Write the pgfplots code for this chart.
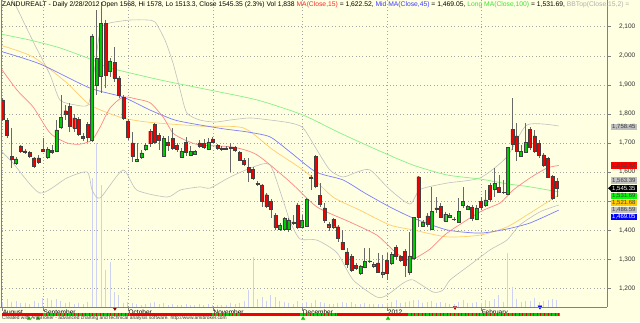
\documentclass[border=0pt]{standalone}
\usepackage{pgfplots}
\pgfplotsset{compat=1.18}
\usepackage{pgfplotstable}
\usepackage{fontspec}
\setmainfont{Liberation Sans}

\definecolor{bg}{RGB}{255,255,226}
\definecolor{gridc}{RGB}{165,165,165}
\definecolor{upc}{RGB}{0,205,0}
\definecolor{dnc}{RGB}{240,0,0}
\definecolor{wick}{RGB}{105,105,105}
\definecolor{volc}{RGB}{205,210,242}
\definecolor{ma15}{RGB}{255,135,135}
\definecolor{ma45}{RGB}{125,125,255}
\definecolor{ma100}{RGB}{135,240,135}
\definecolor{orng}{RGB}{255,205,110}
\definecolor{bbg}{RGB}{192,192,192}

\pgfplotstableread{
i o h l c
0 1848 1855 1776 1782
1 1779 1786 1717 1727
2 1653 1752 1614 1644
3 1631 1652 1624 1645
4 1690 1693 1666 1670
5 1673 1679 1662 1667
6 1667 1672 1648 1653
7 1649 1653 1614 1621
8 1649 1659 1628 1634
9 1678 1716 1669 1673
10 1651 1686 1645 1678
11 1674 1693 1662 1669
12 1673 1779 1669 1745
13 1755 1865 1748 1789
14 1811 1831 1779 1800
15 1827 1838 1739 1756
16 1786 1800 1738 1752
17 1781 1789 1724 1731
18 1723 1734 1707 1717
19 1765 1772 1703 1721
20 1710 2075 1703 2068
21 1899 2157 1865 1992
22 1930 2185 1872 2112
23 2112 2123 1889 1934
24 1948 1992 1927 1982
25 1977 2030 1910 1924
26 1924 1930 1855 1863
27 1858 1865 1779 1786
28 1776 1783 1710 1721
29 1700 1738 1635 1655
30 1639 1700 1635 1643
31 1652 1676 1645 1666
32 1678 1699 1672 1693
33 1741 1748 1686 1700
34 1765 1768 1697 1703
35 1727 1734 1676 1708
36 1654 1724 1652 1717
37 1703 1724 1672 1691
38 1715 1752 1676 1683
39 1693 1700 1669 1678
40 1652 1683 1648 1672
41 1703 1721 1655 1667
42 1659 1690 1655 1670
43 1661 1676 1659 1670
44 1700 1710 1683 1690
45 1699 1715 1679 1684
46 1678 1716 1676 1704
47 1714 1721 1700 1703
48 1691 1697 1676 1682
49 1682 1690 1672 1679
50 1683 1690 1676 1680
51 1683 1700 1600 1686
52 1684 1690 1669 1676
53 1667 1672 1638 1641
54 1640 1648 1621 1627
55 1615 1648 1567 1598
56 1609 1617 1573 1580
57 1562 1569 1552 1559
58 1556 1559 1481 1500
59 1522 1528 1476 1481
60 1500 1507 1441 1472
61 1452 1458 1401 1410
62 1403 1425 1397 1418
63 1403 1445 1397 1441
64 1403 1442 1395 1435
65 1429 1452 1418 1424
66 1487 1494 1404 1410
67 1412 1452 1408 1435
68 1415 1511 1411 1506
69 1583 1590 1538 1580
70 1653 1659 1545 1550
71 1519 1561 1481 1490
72 1477 1492 1424 1435
73 1421 1429 1398 1412
74 1437 1442 1404 1412
75 1412 1418 1360 1374
76 1358 1401 1332 1336
77 1325 1338 1269 1283
78 1309 1318 1257 1263
79 1280 1286 1263 1269
80 1252 1281 1246 1277
81 1274 1338 1270 1294
82 1294 1338 1286 1295
83 1277 1291 1270 1283
84 1288 1322 1252 1257
85 1249 1315 1235 1257
86 1297 1320 1229 1252
87 1288 1326 1280 1318
88 1341 1349 1297 1312
89 1309 1315 1292 1298
90 1328 1334 1240 1278
91 1254 1395 1246 1312
92 1303 1446 1297 1443
93 1584 1586 1412 1446
94 1415 1435 1412 1429
95 1449 1458 1412 1421
96 1404 1550 1401 1464
97 1477 1515 1458 1473
98 1483 1492 1441 1446
99 1432 1462 1427 1455
100 1444 1458 1441 1450
101 1438 1446 1433 1437
102 1429 1510 1427 1464
103 1487 1550 1475 1500
104 1472 1487 1470 1481
105 1479 1487 1433 1440
106 1438 1487 1435 1477
107 1500 1515 1470 1479
108 1486 1538 1479 1504
109 1555 1561 1498 1506
110 1542 1613 1515 1561
111 1548 1590 1527 1530
112 1531 1573 1524 1529
113 1525 1686 1521 1684
114 1747 1854 1676 1697
115 1724 1768 1639 1672
116 1656 1693 1653 1672
117 1668 1768 1666 1702
118 1748 1754 1676 1685
119 1724 1745 1664 1673
120 1699 1710 1647 1659
121 1659 1665 1616 1624
122 1647 1653 1579 1582
123 1586 1590 1504 1510
124 1568 1578 1513.3 1545.35
}\candles

\pgfplotstableread{
i v
0 1315
1 2104
2 1315
3 1578
4 1052
5 1052
6 789
7 1578
8 1052
9 2367
10 2367
11 1841
12 2104
13 1578
14 1052
15 1315
16 789
17 1052
18 789
19 1315
20 33927
21 43132
22 32086
23 9731
24 11835
25 3945
26 3156
27 1052
28 1315
29 1052
30 789
31 526
32 789
33 1052
34 1315
35 789
36 1052
37 526
38 789
39 526
40 526
41 789
42 526
43 526
44 789
45 526
46 789
47 526
48 526
49 526
50 526
51 1052
52 789
53 1052
54 1578
55 4471
56 13150
57 2104
58 2630
59 1578
60 3156
61 2630
62 1578
63 1315
64 1052
65 789
66 1578
67 1052
68 1315
69 1052
70 1841
71 1315
72 1052
73 789
74 789
75 1052
76 1315
77 1052
78 1315
79 789
80 789
81 1052
82 789
83 789
84 789
85 789
86 1052
87 1315
88 1841
89 1052
90 1315
91 1578
92 1841
93 1841
94 1052
95 1315
96 1578
97 1052
98 1315
99 1052
100 789
101 789
102 1315
103 1841
104 1052
105 1052
106 1315
107 1052
108 1841
109 1578
110 2104
111 3156
112 1315
113 14202
114 5260
115 2104
116 1315
117 1578
118 1578
119 2367
120 1315
121 1578
122 1841
123 2104
124 1838
}\voltab

\pgfplotsset{base/.style={width=605pt,height=307pt,scale only axis,
  xmin=-0.16,xmax=135.2,at={(2pt,15pt)},anchor=south west},
  price/.style={base,ymin=1135.8,ymax=2191.8}}

\begin{document}
\begin{tikzpicture}[x=1pt,y=1pt]
\useasboundingbox (0,0) rectangle (640,322);
\fill[bg] (0,0) rectangle (640,322);

% grid, ticks, labels
\begin{axis}[price,
  axis line style={draw=none},
  ytick={1200,1300,1400,1500,1600,1700,1800,1900,2000,2100},
  yticklabels={{1,200},{1,300},{1,400},{},{1,600},{1,700},{1,800},{1,900},{2,000},{2,100}},
  ytick pos=right, yticklabel pos=right,
  xtick={-0.16,9,28,47,67,86,107},
  xticklabels={August,September,October,November,December,2012,February},
  xtick pos=bottom,
  tick align=outside, major tick length=3.5pt,
  tick style={draw=gray, line width=0.5pt},
  ymajorgrids, xmajorgrids,
  grid style={gridc, line width=0.5pt, dash pattern=on 0.8pt off 2.6pt},
  yticklabel style={font=\fontsize{6.5}{7}\selectfont, text=black!80, anchor=west, xshift=5pt},
  xticklabel style={font=\fontsize{6.5}{7}\selectfont, text=black, anchor=north west, inner sep=0.6pt, yshift=1.5pt},
]
\addplot[draw=none] coordinates {(0,1500)};
\end{axis}

% volume
\begin{axis}[base, ymin=0, ymax=80741, hide axis]
\addplot[ycomb, volc, line width=0.9pt, mark=none] table[x=i,y=v]{\voltab};
\end{axis}

% moving averages and bands
\begin{axis}[price, hide axis]
\addplot[bbg, line width=0.6pt, smooth, tension=0.4] coordinates {
(-0.6,2250) (2.8,2175) (5.0,2106) (7.2,2037) (10.6,1934) (12.8,1848) (16.2,1831) (19.1,1831) (20.2,1917) (21.1,2020) (22.0,2096) (24.0,2113) (28.5,2123) (32.3,2123) (34.1,2116) (36.3,2054) (38.1,1975) (39.7,1882) (41.2,1803) (44.1,1779) (47.5,1772) (50.9,1779) (55.3,1786) (59.8,1779) (64.3,1769) (67.2,1752) (70.3,1676) (73.2,1607) (76.1,1583) (79.3,1600) (82.2,1607) (86.6,1540) (91.1,1490) (93.4,1540) (99.4,1562) (106.8,1580) (112.8,1652) (117.3,1762) (124.4,1758.45)};
\addplot[bbg, line width=0.6pt, smooth, tension=0.4] coordinates {
(-0.6,1676) (2.3,1631) (8.3,1528) (14.4,1580) (18.9,1600) (20.0,1538) (21.8,1511) (26.9,1607) (30.0,1538) (36.8,1514) (39.7,1538) (44.1,1549) (46.4,1545) (50.9,1583) (56.0,1617) (59.8,1625) (62.7,1504) (64.3,1430) (66.5,1370) (70.3,1366) (74.8,1322) (78.4,1229) (83.7,1170) (86.0,1177) (89.6,1218) (91.8,1229) (96.3,1187) (98.5,1194) (100.1,1229) (104.5,1280) (109.0,1332) (112.8,1366) (115.7,1418) (120.2,1463) (124.4,1486.59)};
\addplot[ma100, line width=0.7pt, smooth, tension=0.4] coordinates {
(-0.6,2075) (6.1,2054) (12.8,2027) (20.2,1985) (24.0,1958) (35.2,1917) (44.1,1889) (56.9,1848) (67.2,1796) (75.5,1734) (84.4,1672) (91.8,1624) (99.4,1590) (106.8,1576) (113.1,1559) (118.0,1549) (124.4,1531.69)};
\addplot[orng, line width=0.7pt, smooth, tension=0.4] coordinates {
(-0.6,2037) (6.8,1996) (14.4,1906) (19.5,1831) (26.2,1789) (32.3,1772) (44.1,1758) (53.8,1752) (60.5,1676) (68.1,1597) (73.9,1514) (79.9,1469) (86.6,1418) (91.8,1401) (99.4,1377) (106.8,1383) (112.8,1411) (118.0,1459) (124.4,1521.68)};
\addplot[ma45, line width=0.7pt, smooth, tension=0.4] coordinates {
(-0.6,2016) (8.3,1972) (19.5,1889) (26.9,1858) (33.0,1813) (38.5,1779) (44.1,1762) (49.7,1748) (54.7,1738) (59.8,1721) (64.3,1669) (70.1,1600) (76.1,1573) (81.0,1528) (86.6,1480) (91.8,1442) (99.4,1401) (106.8,1390) (112.8,1404) (118.0,1425) (124.4,1469.05)};
\addplot[ma15, line width=0.7pt, smooth, tension=0.4] coordinates {
(-0.6,1961) (3.2,1882) (6.8,1824) (10.6,1734) (14.4,1700) (17.3,1696) (20.0,1710) (21.8,1755) (24.0,1820) (26.9,1858) (30.0,1851) (33.0,1838) (35.9,1789) (38.1,1734) (40.8,1710) (44.1,1693) (51.5,1686) (56.9,1659) (64.3,1566) (70.3,1480) (77.7,1428) (83.7,1383) (87.3,1332) (90.0,1300) (91.8,1300) (95.6,1335) (99.4,1390) (106.8,1463) (111.3,1494) (114.2,1538) (118.0,1580) (121.8,1614) (124.4,1622.52)};
\end{axis}

% wicks
\begin{axis}[price, hide axis]
\addplot[draw=none, mark=none, error bars/.cd, y dir=both, y explicit,
  error mark=none, error bar style={wick, line width=0.6pt}]
  table[x=i, y expr={(\thisrow{h}+\thisrow{l})/2}, y error expr={(\thisrow{h}-\thisrow{l})/2}]{\candles};
\end{axis}

% bodies
\begin{axis}[price, hide axis, ybar stacked, bar width=3pt]
\addplot[draw=none, fill=none] table[x=i, y expr={min(\thisrow{o},\thisrow{c})}]{\candles};
\addplot[fill=upc, draw=black!75, line width=0.4pt] table[x=i, y expr={max(\thisrow{c}-\thisrow{o},0)}]{\candles};
\addplot[fill=dnc, draw=black!75, line width=0.4pt] table[x=i, y expr={max(\thisrow{o}-\thisrow{c},0)}]{\candles};
\end{axis}

% signal strip and arrows
\begin{axis}[base, ymin=0, ymax=307, hide axis, clip=false]
\addplot[dnc, line width=2.2pt] coordinates {(-0.16,-7.5) (124.7,-7.5)};
\addplot[upc, line width=2.2pt, dash pattern=on 2.6pt off 1pt] coordinates {(9.0,-7.5) (28.5,-7.5)};
\addplot[upc, line width=2.2pt, dash pattern=on 2.6pt off 1pt] coordinates {(46.8,-7.5) (53.1,-7.5)};
\addplot[upc, line width=2.2pt, dash pattern=on 2.6pt off 1pt] coordinates {(66.5,-7.5) (74.8,-7.5)};
\addplot[upc, line width=2.2pt, dash pattern=on 2.6pt off 1pt] coordinates {(90.7,-7.5) (124.7,-7.5)};
\addplot[only marks, mark=triangle*, mark size=2pt, color=upc] coordinates {(5.9,-11.5) (7.9,-11.5) (67.2,-11.5) (86.2,-11.5)};
\addplot[only marks, mark=triangle*, mark size=2pt, color={rgb,255:red,140;green,0;blue,0}, mark options={rotate=180}] coordinates {(25.1,-1.5) (101.2,-0.5)};
\addplot[only marks, mark=triangle*, mark size=2.2pt, color=blue, mark options={rotate=180}] coordinates {(120.2,0)};
\end{axis}

% frame
\draw[gray, line width=0.5pt] (1,15) -- (1,322);
\draw[gray, line width=0.5pt] (607,15) -- (607,322);
\draw[gray, line width=0.5pt] (0,15) -- (607,15);

% title
\node[anchor=west, inner sep=0pt, font=\fontsize{6.75}{7}\selectfont] at (2,317) {ZANDUREALT - Daily 2/28/2012 Open 1568, Hi 1578, Lo 1513.3, Close 1545.35 (2.3\%) Vol 1,838 \textcolor[RGB]{255,40,40}{MA(Close,15)} = 1,622.52, \textcolor[RGB]{60,60,255}{Mid MA(Close,45)} = 1,469.05, \textcolor[RGB]{60,225,60}{Long MA(Close,100)} = 1,531.69, \textcolor[RGB]{175,175,175}{BBTop(Close,15,2) =}};

% footer
\node[anchor=west, inner sep=0pt, font=\fontsize{4.9}{5}\selectfont, text=black!80] at (2,3.5) {Created with AmiBroker - advanced charting and technical analysis software. http://www.amibroker.com};

% value boxes
\tikzset{vb/.style={anchor=west, inner xsep=1pt, inner ysep=0.2pt, minimum height=6.4pt, font=\fontsize{6}{6}\selectfont}}
\node[vb, fill={rgb,255:red,192;green,192;blue,192}, text=black!75] at (611,195.3) {1,758.45};
\node[vb, fill={rgb,255:red,255;green,0;blue,0}, text=black!75] at (611,156.6) {1,622.52};
\node[vb, fill={rgb,255:red,192;green,192;blue,192}, text=black!75] at (611,141.7) {1,563.39};
\fill[black] (608,133.7) -- (611.5,136.8) -- (611.5,130.6) -- cycle;
\node[vb, fill=black, text=white] at (611,133.7) {1,545.35};
\node[vb, fill={rgb,255:red,0;green,255;blue,0}, text=black!75] at (611,126.3) {1,531.69};
\node[vb, fill={rgb,255:red,255;green,200;blue,0}, text=black!75] at (611,119.3) {1,521.68};
\node[vb, fill={rgb,255:red,192;green,192;blue,192}, text=black!75] at (611,112.3) {1,486.59};
\node[vb, fill={rgb,255:red,0;green,0;blue,255}, text=white] at (611,105.3) {1,469.05};
\end{tikzpicture}
\end{document}
